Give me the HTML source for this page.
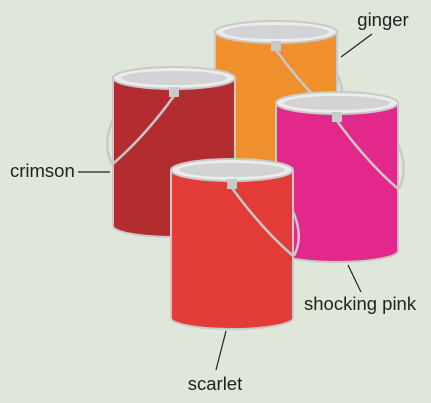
<!DOCTYPE html>
<html><head><meta charset="utf-8"><style>
body{margin:0;background:#dfe6da;}
svg{display:block;font-family:"Liberation Sans",sans-serif;}
</style></head><body>
<svg id="s" width="431" height="403" viewBox="0 0 431 403">
<rect width="431" height="403" fill="#dfe6da"/>
</svg>
<script>
const names=["ginger","crimson","shocking pink","scarlet"];
const colors=["#f0902c","#b22c30","#e2288a","#e33b37"];
const cxs=[276,174,337,232];
const tops=[32,78,103,170];
const sides=[1,-1,1,1];
const NS="http://www.w3.org/2000/svg";
const s=document.getElementById('s');
function el(t,a,p){const e=document.createElementNS(NS,t);for(const k in a)e.setAttribute(k,a[k]);(p||s).appendChild(e);return e;}
const rx=61,ry=11,h=148;
names.forEach((n,i)=>{
 const g=el('g',{});
 
 
 const cx=cxs[i],t=tops[i],sd=sides[i],b=t+h;
 const edge=cx+sd*rx;
 el('path',{d:`M${edge},${t+h*0.28} Q${edge+sd*11},${t+h*0.45} ${edge+sd*1},${t+h*0.58}`,fill:'none',stroke:'#c9c9c9','stroke-width':2.5},g);
 el('path',{d:`M${cx-rx},${t} L${cx-rx},${b} A${rx},${ry} 0 0 0 ${cx+rx},${b} L${cx+rx},${t} Z`,fill:colors[i],stroke:'#c9c9c9','stroke-width':2},g);
 el('ellipse',{cx:cx,cy:t,rx:rx,ry:ry,fill:'#ececec',stroke:'#c9c9c9','stroke-width':2},g);
 el('ellipse',{cx:cx,cy:t,rx:rx-8,ry:ry-4,fill:'#d3d3d5'},g);
 el('rect',{x:cx-5,y:t+9,width:10,height:10,fill:'#c9c9c9'},g);
 el('path',{d:`M${cx},${t+18} Q${cx+sd*30},${t+h*0.4} ${edge},${t+h*0.58}`,fill:'none',stroke:'#c9c9c9','stroke-width':2.5},g);
});
const labels=[["ginger",383,26,"middle",341,57,372,34],["crimson",10,177,"start",78,172,110,172],["shocking pink",304,310,"start",348,265,361,292],["scarlet",215,390,"middle",226,331,216,370]];
labels.forEach(l=>{
 const ln=el('line',{x1:l[4],y1:l[5],x2:l[6],y2:l[7],stroke:'#222','stroke-width':1.2});
 
 
 const t=el('text',{x:l[1],y:l[2],'text-anchor':l[3],'font-size':18.5,fill:'#222'});
 t.textContent=l[0];
 
 
});
</script>
</body></html>
